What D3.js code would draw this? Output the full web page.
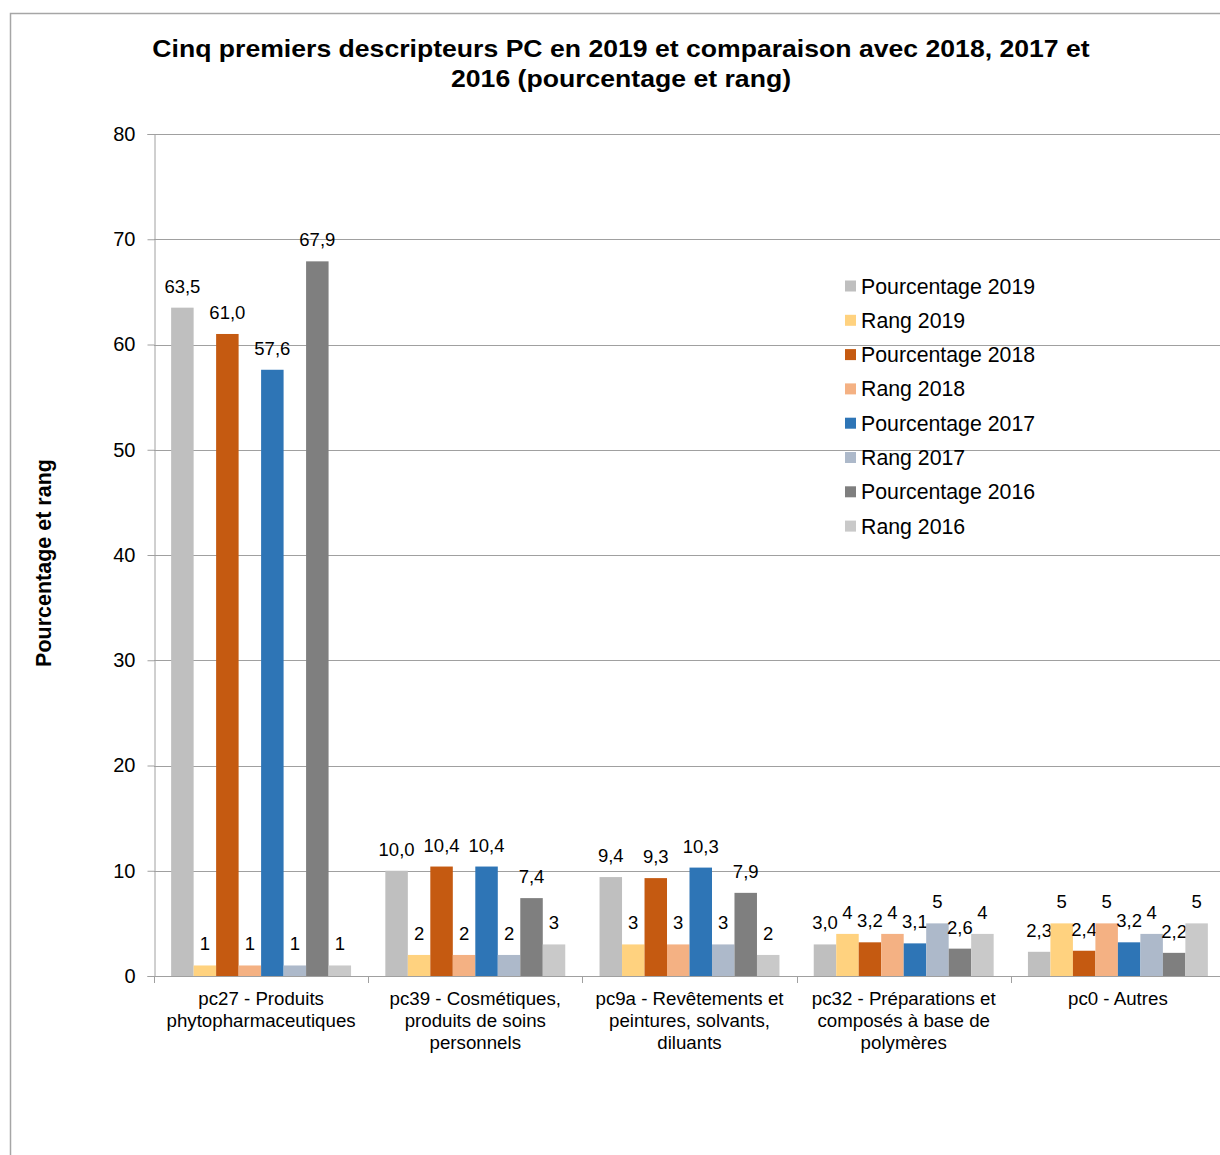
<!DOCTYPE html>
<html>
<head>
<meta charset="utf-8">
<script src="https://cdn.jsdelivr.net/npm/d3@7"></script>
<style>
  html, body { margin: 0; padding: 0; background: #ffffff; }
  svg { display: block; font-family: "Liberation Sans", Arial, sans-serif; }
</style>
</head>
<body>
<svg id="chart" width="1220" height="1155"></svg>
<script>
// Categories (each split into lines for the axis labels)
const categories = [
  ["pc27 - Produits", "phytopharmaceutiques"],
  ["pc39 - Cosmétiques,", "produits de soins", "personnels"],
  ["pc9a - Revêtements et", "peintures, solvants,", "diluants"],
  ["pc32 - Préparations et", "composés à base de", "polymères"],
  ["pc0 - Autres"]
];

const seriesNames = [
  "Pourcentage 2019", "Rang 2019",
  "Pourcentage 2018", "Rang 2018",
  "Pourcentage 2017", "Rang 2017",
  "Pourcentage 2016", "Rang 2016"
];

const pourcentage2019 = [63.5, 10.0, 9.4, 3.0, 2.3];
const rang2019        = [1, 2, 3, 4, 5];
const pourcentage2018 = [61.0, 10.4, 9.3, 3.2, 2.4];
const rang2018        = [1, 2, 3, 4, 5];
const pourcentage2017 = [57.6, 10.4, 10.3, 3.1, 3.2];
const rang2017        = [1, 2, 3, 5, 4];
const pourcentage2016 = [67.9, 7.4, 7.9, 2.6, 2.2];
const rang2016        = [1, 3, 2, 4, 5];

const yTicks = [0, 10, 20, 30, 40, 50, 60, 70, 80];

const seriesValues = [
  pourcentage2019, rang2019,
  pourcentage2018, rang2018,
  pourcentage2017, rang2017,
  pourcentage2016, rang2016
];
const isRank = [false, true, false, true, false, true, false, true];

const colors = [
  "#bfbfbf", "#ffd27f",
  "#c55a11", "#f4b183",
  "#2e75b6", "#adb9ca",
  "#7f7f7f", "#c9c9c9"
];

const svg = d3.select("#chart");
const plot = { left: 154, right: 1225, top: 134, bottom: 976 };
const font = '"Liberation Sans", Arial, sans-serif';

// Outer chart frame (extends past the visible window)
svg.append("rect")
  .attr("x", 10.5).attr("y", 13.5)
  .attr("width", 1260).attr("height", 1200)
  .attr("fill", "none")
  .attr("stroke", "#a6a6a6")
  .attr("stroke-width", 1.5);

const catIdx = d3.range(categories.length);
const x0 = d3.scaleBand()
  .domain(catIdx)
  .range([plot.left, plot.right])
  .paddingInner(0.16)
  .paddingOuter(0.08);

const x1 = d3.scaleBand()
  .domain(d3.range(seriesNames.length))
  .range([0, x0.bandwidth()]);

const y = d3.scaleLinear().domain([0, 80]).range([plot.bottom, plot.top]);

// Horizontal gridlines
svg.append("g")
  .selectAll("line")
  .data(yTicks.filter(d => d > 0))
  .join("line")
  .attr("x1", plot.left).attr("x2", plot.right)
  .attr("y1", d => Math.round(y(d)) + 0.5)
  .attr("y2", d => Math.round(y(d)) + 0.5)
  .attr("stroke", "#a0a0a0")
  .attr("stroke-width", 1);

// Y axis
const yAxis = d3.axisLeft(y).tickValues(yTicks).tickSize(7).tickPadding(12)
  .tickFormat(d3.format("d"));
const yG = svg.append("g")
  .attr("transform", `translate(${plot.left + 0.5},0)`)
  .call(yAxis);
yG.select(".domain").attr("stroke", "#a0a0a0");
yG.selectAll(".tick line").attr("stroke", "#a0a0a0");
yG.selectAll(".tick text")
  .attr("font-family", font).attr("font-size", 20).attr("fill", "#000");

// Bars
const groups = svg.append("g")
  .selectAll("g")
  .data(catIdx)
  .join("g")
  .attr("transform", i => `translate(${x0(i)},0)`);

const cells = groups.selectAll("g.cell")
  .data(i => seriesValues.map((vals, s) => ({ s, v: vals[i] })))
  .join("g").attr("class", "cell");

cells.append("rect")
  .attr("x", d => x1(d.s))
  .attr("width", x1.bandwidth())
  .attr("y", d => y(d.v))
  .attr("height", d => y(0) - y(d.v))
  .attr("fill", d => colors[d.s]);

const fmtPct = v => d3.format(".1f")(v).replace(".", ",");
cells.append("text")
  .attr("x", d => x1(d.s) + x1.bandwidth() / 2)
  .attr("y", d => y(d.v) - 15)
  .attr("text-anchor", "middle")
  .attr("font-family", font)
  .attr("font-size", 18.5)
  .attr("fill", "#000")
  .text(d => isRank[d.s] ? d3.format("d")(d.v) : fmtPct(d.v));

// X axis line and category boundary ticks
svg.append("line")
  .attr("x1", plot.left).attr("x2", 1220)
  .attr("y1", plot.bottom + 0.5).attr("y2", plot.bottom + 0.5)
  .attr("stroke", "#a0a0a0");
const step = x0.step();
svg.append("g")
  .selectAll("line")
  .data(d3.range(categories.length + 1))
  .join("line")
  .attr("x1", i => Math.round(plot.left + i * step) + 0.5)
  .attr("x2", i => Math.round(plot.left + i * step) + 0.5)
  .attr("y1", plot.bottom)
  .attr("y2", plot.bottom + 7)
  .attr("stroke", "#a0a0a0");

// Category labels
const catLabels = svg.append("g")
  .selectAll("text")
  .data(catIdx)
  .join("text")
  .attr("x", i => x0(i) + x0.bandwidth() / 2)
  .attr("y", plot.bottom + 29)
  .attr("text-anchor", "middle")
  .attr("font-family", font)
  .attr("font-size", 18.7)
  .attr("fill", "#000");
catLabels.selectAll("tspan")
  .data(i => categories[i])
  .join("tspan")
  .attr("x", function () { return d3.select(this.parentNode).attr("x"); })
  .attr("dy", (d, k) => k === 0 ? 0 : 22)
  .text(d => d);

// Title (slightly widened glyphs)
const title = svg.append("text")
  .attr("transform", "translate(621,0) scale(1.157,1)")
  .attr("x", 0).attr("y", 57)
  .attr("text-anchor", "middle")
  .attr("font-family", font)
  .attr("font-size", 23)
  .attr("font-weight", "bold")
  .attr("fill", "#000");
["Cinq premiers descripteurs PC en 2019 et comparaison avec 2018, 2017 et",
 "2016 (pourcentage et rang)"].forEach((t, k) => {
  title.append("tspan").attr("x", 0).attr("dy", k === 0 ? 0 : 30).text(t);
});

// Y axis title
svg.append("text")
  .attr("transform", "translate(51,563) rotate(-90)")
  .attr("text-anchor", "middle")
  .attr("font-family", font)
  .attr("font-size", 21.5)
  .attr("font-weight", "bold")
  .attr("fill", "#000")
  .text("Pourcentage et rang");

// Legend
const legend = svg.append("g")
  .selectAll("g")
  .data(seriesNames)
  .join("g")
  .attr("transform", (d, i) => `translate(845,${286 + i * 34.3})`);
legend.append("rect")
  .attr("x", 0).attr("y", -5.5)
  .attr("width", 11).attr("height", 11)
  .attr("fill", (d, i) => colors[i]);
legend.append("text")
  .attr("x", 16).attr("y", 7.5)
  .attr("font-family", font)
  .attr("font-size", 21.3)
  .attr("fill", "#000")
  .text(d => d);
</script>
</body>
</html>
